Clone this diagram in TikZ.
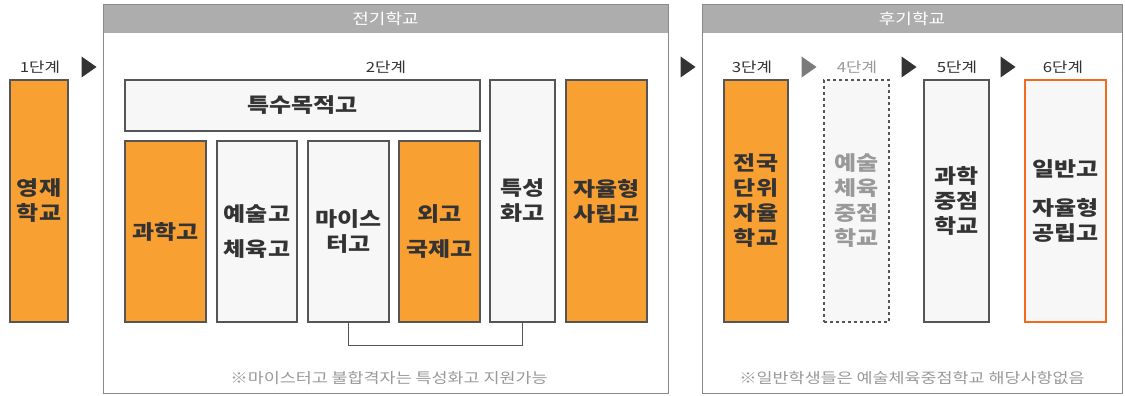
\documentclass[tikz,border=0pt]{standalone}
\usepackage{fontspec}
\setmainfont{Noto Sans CJK KR}[FakeStretch=1.2]
\usetikzlibrary{shapes.geometric}

\definecolor{orng}{HTML}{F9A033}
\definecolor{pale}{HTML}{F7F7F7}
\definecolor{edge}{HTML}{555555}
\definecolor{head}{HTML}{ADADAD}
\definecolor{ink}{HTML}{333333}
\definecolor{note}{HTML}{999999}
\definecolor{red6}{HTML}{F26A1E}

\tikzset{
  school/.style={draw=edge,line width=1.2pt,align=center,font=\bfseries\fontsize{20}{25}\selectfont,text=ink,inner sep=0pt},
  hot/.style={school,fill=orng},
  cool/.style={school,fill=pale},
  steplabel/.style={font=\fontsize{14}{16}\selectfont,text=ink},
  tri/.style={isosceles triangle,isosceles triangle apex angle=70,fill=ink,inner sep=0pt,minimum size=15pt},
  frame/.style={draw=head!80!black,line width=1pt},
  remark/.style={font=\fontsize{14.5}{16}\selectfont,text=note}
}

\begin{document}
\begin{tikzpicture}[x=1pt,y=-1pt]
  \useasboundingbox (0,0) rectangle (1125,396);

  % frames
  \draw[frame,fill=white] (103,5) rectangle (668,393);
  \fill[head] (103.5,5.5) rectangle (667.5,33);
  \draw[frame,fill=white] (702,5) rectangle (1122,393);
  \fill[head] (702.5,5.5) rectangle (1121.5,33);
  \node[text=white,font=\fontsize{15}{17}\selectfont] (early) at (385.5,19) {전기학교};
  \node[text=white,font=\fontsize{15}{17}\selectfont] (late) at (912,19) {후기학교};

  % stages
  \node[steplabel] (st1) at (40,67) {1단계};
  \node[steplabel] (st2) at (386,67) {2단계};
  \node[steplabel] (st3) at (752,67) {3단계};
  \node[steplabel,text=note] (st4) at (857,67) {4단계};
  \node[steplabel] (st5) at (957,67) {5단계};
  \node[steplabel] (st6) at (1063,67) {6단계};

  \node[tri] (a1) at (87,67) {};
  \node[tri] (a2) at (686,67) {};
  \node[tri,fill=ink!65] (a3) at (807,67) {};
  \node[tri] (a4) at (907,67) {};
  \node[tri] (a5) at (1006,67) {};

  % schools
  \node[hot,minimum width=58pt,minimum height=242pt] (gifted) at (39,201) {영재\\학교};
  \node[cool,minimum width=355pt,minimum height=51pt] (special) at (302.5,105.5) {특수목적고};
  \node[hot,minimum width=81pt,minimum height=181pt] (science) at (165.5,231.5) {과학고};
  \node[cool,minimum width=80pt,minimum height=181pt] (arts) at (257,231.5) {예술고\\[10pt]체육고};
  \node[cool,minimum width=81pt,minimum height=181pt] (meister) at (348.5,231.5) {마이스\\터고};
  \node[hot,minimum width=81pt,minimum height=181pt] (foreign) at (439.5,231.5) {외고\\[10pt]국제고};
  \node[cool,minimum width=65pt,minimum height=242pt] (voc) at (522.5,201) {특성\\화고};
  \node[hot,minimum width=81pt,minimum height=242pt] (private) at (606.5,201) {자율형\\사립고};

  \node[hot,minimum width=64pt,minimum height=242pt] (national) at (756,201) {전국\\단위\\자율\\학교};
  \node[cool,dashed,text=note,minimum width=65pt,minimum height=242pt] (artsfocus) at (856.5,201) {예술\\체육\\중점\\학교};
  \node[cool,minimum width=65pt,minimum height=242pt] (scifocus) at (956.5,201) {과학\\중점\\학교};
  \node[cool,draw=red6,line width=2pt,minimum width=81pt,minimum height=242pt] (general) at (1065.5,201) {일반고\\[14pt]자율형\\공립고};

  % bracket
  \draw[edge,line width=1pt] (meister.south) -- ++(0,23) -| (voc.south);

  % notes
  \node[remark] (note1) at (389,378) {※마이스터고 불합격자는 특성화고 지원가능};
  \node[remark] (note2) at (912,378) {※일반학생들은 예술체육중점학교 해당사항없음};
\end{tikzpicture}
\end{document}
